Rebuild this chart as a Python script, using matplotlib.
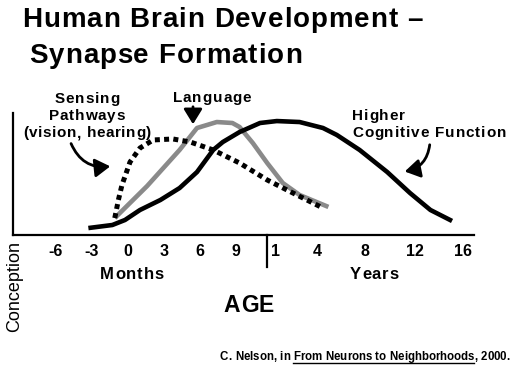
import matplotlib
matplotlib.use("Agg")
import matplotlib.pyplot as plt
from matplotlib.patches import FancyArrowPatch

W, H = 529, 372

# x is age on a "month" scale (0 = birth), y is relative synapse formation (0-100)
cog_x = [-3.3, -1.3, -0.25, 1.0, 2.7, 4.3, 5.75, 7.1, 7.9, 9.3, 11.0, 12.4, 14.3, 16.25, 17.4, 19.3, 21.6, 23.5, 25.2, 27.0]
cog_y = [5.7, 8.2, 12.3, 20.5, 28.7, 38.5, 51.6, 69.7, 76.2, 84.4, 91.8, 93.4, 92.6, 87.7, 82.0, 69.7, 51.6, 34.4, 20.5, 11.5]

lang_x = [-1.1, 1.6, 4.3, 5.75, 7.4, 8.7, 9.3, 10.4, 11.6, 12.9, 14.3, 16.7]
lang_y = [13.9, 40.2, 69.7, 87.7, 92.6, 91.8, 88.5, 75.4, 59.0, 42.6, 32.8, 23.0]

sense_x = [-1.1, -0.8, -0.5, 0.17, 1.0, 2.1, 3.75, 5.2, 7.1, 9.3, 11.6, 13.75, 16.25]
sense_y = [13.9, 28.7, 41.0, 59.8, 71.3, 77.9, 78.7, 76.2, 69.7, 59.0, 45.1, 34.4, 22.1]

tick_labels = ["-6", "-3", "0", "3", "6", "9", "1", "4", "8", "12", "16"]
tick_pos = [-6, -3, 0, 3, 6, 9, 12.3, 15.8, 19.75, 23.9, 27.9]
divider = 11.6

FONT = "Liberation Sans"


def fx(px):
    return px / W


def fy(py):
    return 1 - py / H


def main():
    fig = plt.figure(figsize=(W / 100, H / 100), dpi=100)
    ax = fig.add_axes([fx(13), fy(235), fx(474) - fx(13), fy(113) - fy(235)])
    ax.set_xlim(-9.58, 28.83)
    ax.set_ylim(0, 100)

    ax.plot(cog_x, cog_y, color="black", lw=3.3, solid_capstyle="butt", zorder=3)
    ax.plot(lang_x, lang_y, color="#8a8a8a", lw=3.3, solid_capstyle="butt", zorder=2)
    ax.plot(sense_x, sense_y, color="black", lw=3.6, dashes=(1.0, 0.85),
            dash_capstyle="butt", zorder=4)

    for s in ["top", "right"]:
        ax.spines[s].set_visible(False)
    for s in ["left", "bottom"]:
        ax.spines[s].set_linewidth(1.6)
    ax.set_yticks([])
    ax.set_xticks(tick_pos)
    ax.set_xticklabels(tick_labels, fontfamily=FONT, fontweight="bold", fontsize=11.5)
    ax.tick_params(axis="x", length=0, pad=6.5)

    # months / years divider
    ax.plot([divider, divider], [0, -26.2], color="black", lw=1.6, clip_on=False)

    renderer = fig.canvas.get_renderer()

    def width(s, size, weight):
        if not s:
            return 0.0
        t1 = fig.text(0, 0, s + "|", fontsize=size, fontweight=weight, fontfamily=FONT)
        t2 = fig.text(0, 0, "|", fontsize=size, fontweight=weight, fontfamily=FONT)
        w = t1.get_window_extent(renderer).width - t2.get_window_extent(renderer).width
        t1.remove()
        t2.remove()
        return w

    def tracked(s, x, y, size, track, ha="left", weight="bold"):
        # letter-spaced text, x/y in figure pixels (y = baseline)
        pre = [width(s[:i], size, weight) for i in range(len(s) + 1)]
        total = pre[-1] + track * (len(s) - 1)
        x0 = x - total / 2 if ha == "center" else x
        for i, c in enumerate(s):
            if c != " ":
                fig.text(fx(x0 + pre[i] + i * track), fy(y), c, fontsize=size,
                         fontweight=weight, fontfamily=FONT, va="baseline")
        return x0, total

    tracked("Human Brain Development \u2013", 22, 27, 20, 0.95)
    tracked("Synapse Formation", 29, 63, 20, 0.95)

    tracked("Sensing", 87, 103, 11, 0.8, ha="center")
    tracked("Pathways", 87, 120, 11, 0.8, ha="center")
    tracked("(vision, hearing)", 87, 137, 11, 0.6, ha="center")
    tracked("Language", 212, 102, 11, 0.9, ha="center")
    tracked("Higher", 352, 120, 11, 0.9)
    tracked("Cognitive Function", 352, 137, 11, 0.9)

    tracked("Months", 132, 279, 12, 1.0, ha="center")
    tracked("Years", 374, 279, 12, 1.0, ha="center")
    tracked("AGE", 249, 312, 16.5, 0.5, ha="center")
    fig.text(fx(15), fy(287), "Conception", fontsize=13, rotation=90, ha="center",
             va="center", fontfamily=FONT)

    arrow = dict(arrowstyle="-|>,head_length=0.65,head_width=0.4", color="black", lw=2)
    fig.add_artist(FancyArrowPatch((fx(193), fy(104)), (fx(193), fy(127)),
                                   transform=fig.transFigure, mutation_scale=14, **arrow))
    fig.add_artist(FancyArrowPatch((fx(70), fy(141)), (fx(113), fy(166)),
                                   transform=fig.transFigure, connectionstyle="arc3,rad=0.4",
                                   mutation_scale=14, **arrow))
    fig.add_artist(FancyArrowPatch((fx(430), fy(142)), (fx(402), fy(172)),
                                   transform=fig.transFigure, connectionstyle="arc3,rad=-0.4",
                                   mutation_scale=14, **arrow))

    # citation with underlined book title
    size = 8.3
    track = 0.0
    space = width("a a", size, "bold") - width("aa", size, "bold")
    x = 220
    y = 360
    x0, w = tracked("C. Nelson, in", x, y, size, track)
    x = x0 + w + space
    x0, w = tracked("From Neurons to Neighborhoods", x, y, size, track)
    fig.add_artist(plt.Line2D([fx(x0), fx(x0 + w)], [fy(y + 3), fy(y + 3)],
                              transform=fig.transFigure, color="black", lw=1))
    tracked(", 2000.", x0 + w, y, size, track)

    fig.savefig("out.png", dpi=100)


if __name__ == "__main__":
    main()
